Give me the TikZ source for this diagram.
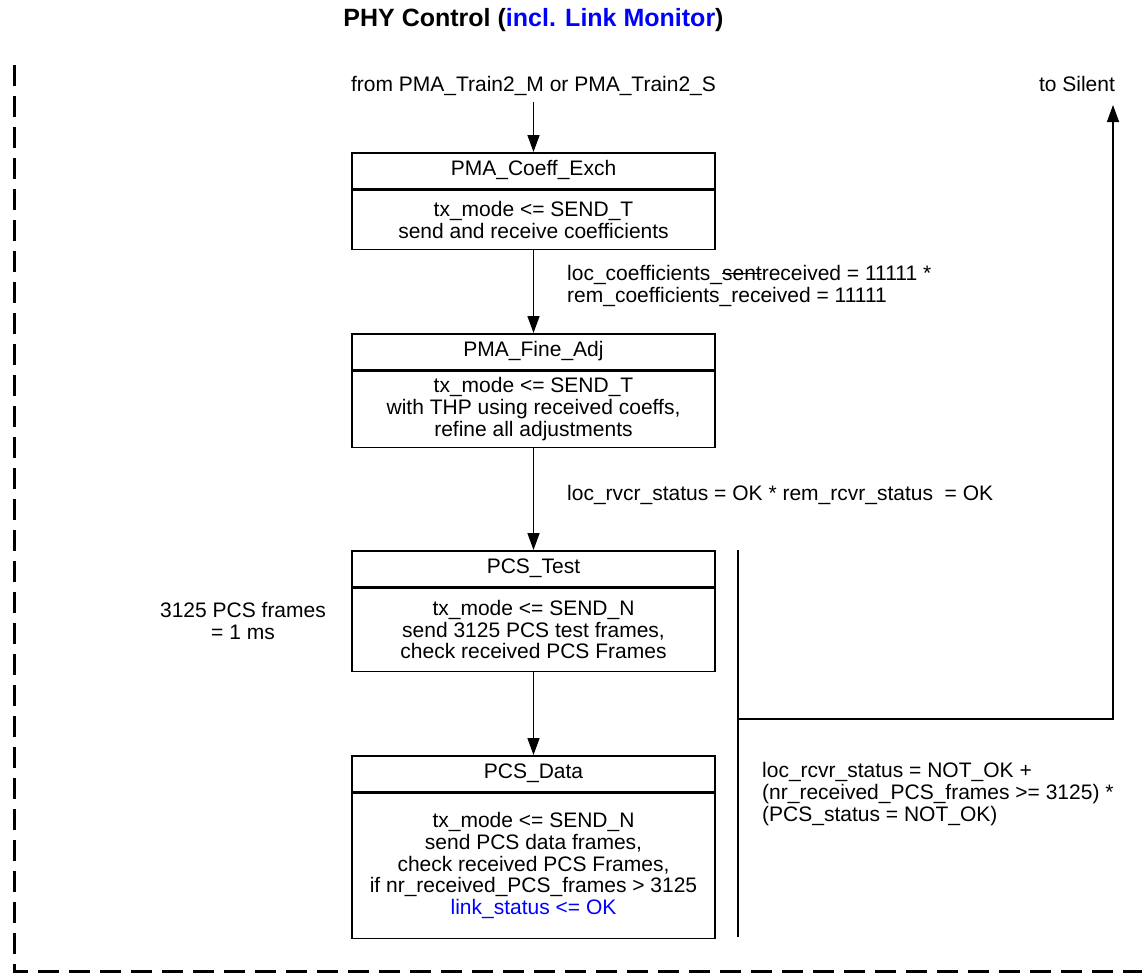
\documentclass[tikz,border=0pt]{standalone}
\usepackage{fontspec}
\setmainfont{Liberation Sans}
\usetikzlibrary{arrows.meta}

% struck-through word
\newsavebox{\strikebox}
\newcommand{\strikeword}[1]{\sbox{\strikebox}{#1}\rlap{\rule[0.3em]{\wd\strikebox}{1.2pt}}\usebox{\strikebox}}

\begin{document}
\begin{tikzpicture}[x=1pt,y=-1pt,
  every node/.style={font=\fontsize{21}{21.7}\selectfont, inner sep=0pt},
  hdr/.style={draw, line width=1.5pt, minimum width=363pt, minimum height=36pt,
              text height=15pt, text depth=6pt, anchor=north},
  body/.style={draw, line width=1.5pt, minimum width=363pt, anchor=north, align=center},
  arr/.style={line width=1.5pt, -{Triangle[length=17pt,width=12pt]}},
  lbl/.style={align=left, anchor=west},
  border/.style={line width=3pt, dash pattern=on 21pt off 10pt}
]
\useasboundingbox (0,0) rectangle (1142,974);

% frame of the PHY control block
\draw[border] (14,65) -- (14,971) -- (1142,971);

% heading
\node[anchor=base, font=\bfseries\fontsize{25}{30}\selectfont] (title) at (533.5,26.7)
  {PHY Control (\textcolor{blue}{incl. Link Monitor})};

% entry and exit
\node[anchor=base] (from) at (533.5,92) {from PMA\_Train2\_M or PMA\_Train2\_S};
\node[anchor=base] (silent) at (1077,92) {to Silent};

% states
\node[hdr] (coeffT) at (533.5,152) {PMA\_Coeff\_Exch};
\node[body, minimum height=59pt] (coeffB) at (coeffT.south)
  {tx\_mode <= SEND\_T\\send and receive coefficients};

\node[hdr] (fineT) at (533.5,333) {PMA\_Fine\_Adj};
\node[body, minimum height=76pt] (fineB) at (fineT.south)
  {tx\_mode <= SEND\_T\\with THP using received coeffs,\\refine all adjustments};

\node[hdr] (testT) at (533.5,550) {PCS\_Test};
\node[body, minimum height=83pt] (testB) at (testT.south)
  {tx\_mode <= SEND\_N\\send 3125 PCS test frames,\\check received PCS Frames};

\node[hdr] (dataT) at (533.5,755) {PCS\_Data};
\node[body, minimum height=145pt] (dataB) at (dataT.south)
  {tx\_mode <= SEND\_N\\send PCS data frames,\\check received PCS Frames,\\if nr\_received\_PCS\_frames > 3125\\\textcolor{blue}{link\_status <= OK}};

% transition conditions and notes
\node[lbl] (cond1) at (567,286)
  {loc\_coefficients\_\strikeword{sent}received = 11111 *\\rem\_coefficients\_received = 11111};
\node[lbl] (cond2) at (567,495)
  {loc\_rvcr\_status = OK * rem\_rcvr\_status\ \ = OK};
\node[align=center] (frames) at (243,621) {3125 PCS frames\\= 1 ms};
\node[lbl] (cond3) at (762,794)
  {loc\_rcvr\_status = NOT\_OK +\\(nr\_received\_PCS\_frames >= 3125) *\\(PCS\_status = NOT\_OK)};

% transitions
\draw[arr, shorten <=6pt] (from.south) -- (coeffT.north);
\draw[arr] (coeffB.south) -- (fineT.north);
\draw[arr] (fineB.south) -- (testT.north);
\draw[arr] (testB.south) -- (dataT.north);

% exit to Silent from the link-monitor states
\coordinate (vtop) at (738,550);
\coordinate (vbot) at (738,937);
\coordinate (turn) at (1113,719);
\coordinate (silentEnd) at (1113,105);
\draw[line width=1.5pt] (vtop) -- (vbot);
\draw[arr] (vtop |- turn) -- (turn) -- (silentEnd);
\end{tikzpicture}
\end{document}
